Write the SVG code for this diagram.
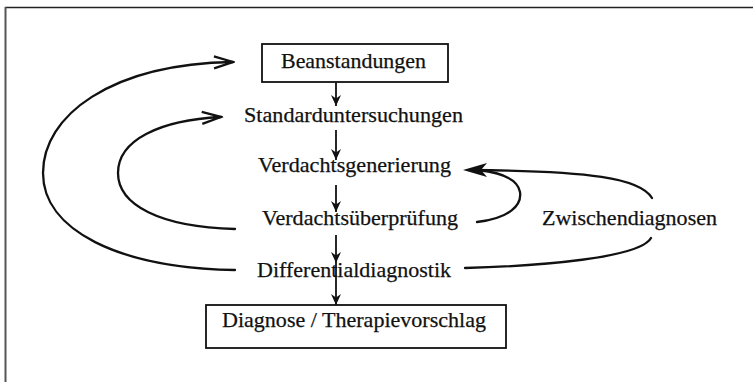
<svg xmlns="http://www.w3.org/2000/svg" width="753" height="382" viewBox="0 0 753 382">
  <defs>
    <style>
      .t { font-family: "Liberation Serif", "Times New Roman", serif; font-size: 22px; fill: #111; stroke: #111; stroke-width: 0.25; }
      .box { fill: #fff; stroke: #111; stroke-width: 1.8; }
      .v { stroke: #111; stroke-width: 1.8; fill: none; }
      .c { stroke: #111; stroke-width: 2.3; fill: none; stroke-linecap: round; }
    </style>
    <marker id="vh" markerUnits="userSpaceOnUse" markerWidth="14" markerHeight="14" viewBox="-12 -7 13 14" refX="0" refY="0" orient="auto">
      <path d="M0,0 L-11,-5 L-7.5,0 L-11,5 Z" fill="#111"/>
    </marker>
    <marker id="oh" markerUnits="userSpaceOnUse" markerWidth="24" markerHeight="16" viewBox="-21 -8 23 16" refX="0" refY="0" orient="auto">
      <path d="M-19,-6 L0,0 L-19,6" fill="none" stroke="#111" stroke-width="2.3" stroke-linejoin="miter"/>
      <path d="M-8,-2 L0,0 L-8,2 Z" fill="#111"/>
    </marker>
  </defs>

  <g id="frame">
    <path d="M5,7.5 H753" stroke="#222" stroke-width="1.5"/>
    <path d="M5.5,7 V382" stroke="#555" stroke-width="2"/>
  </g>

  <g id="connectors">
    <path class="v" d="M336,82 V106" marker-end="url(#vh)"/>
    <path class="v" d="M336,130 V160" marker-end="url(#vh)"/>
    <path class="v" d="M336,185 V212" marker-end="url(#vh)"/>
    <path class="v" d="M336,235 V263" marker-end="url(#vh)"/>
    <path class="v" d="M336,263 V305" marker-end="url(#vh)"/>
    <path class="c" d="M235,270 C118,268 43,230 43,173 C43,116 110,64 233,62" marker-end="url(#oh)"/>
    <path class="c" d="M235,229 C160,227 118,205 118,173 C118,140 160,120 221,117" marker-end="url(#oh)"/>
    <path class="c" d="M652,198 C640,178 590,171 470,170"/>
    <path class="c" d="M477,222 C510,218 522,205 520,192 C518,180 505,173 478,170"/>
    <path d="M463,170 L487,163 L481,170 L487,177 Z" fill="#111"/>
    <path class="c" d="M465,268 C540,266 640,258 651,238"/>
  </g>

  <g id="beanstandungen">
    <rect class="box" x="262" y="44" width="186" height="38"/>
    <text class="t" x="281" y="68" textLength="145" lengthAdjust="spacingAndGlyphs">Beanstandungen</text>
  </g>
  <g id="standarduntersuchungen">
    <text class="t" x="244" y="122" textLength="219" lengthAdjust="spacingAndGlyphs">Standarduntersuchungen</text>
  </g>
  <g id="verdachtsgenerierung">
    <text class="t" x="258" y="172" textLength="193" lengthAdjust="spacingAndGlyphs">Verdachtsgenerierung</text>
  </g>
  <g id="verdachtsueberpruefung">
    <text class="t" x="262" y="225" textLength="196" lengthAdjust="spacingAndGlyphs">Verdachtsüberprüfung</text>
  </g>
  <g id="differentialdiagnostik">
    <text class="t" x="257" y="277" textLength="194" lengthAdjust="spacingAndGlyphs">Differentialdiagnostik</text>
  </g>
  <g id="zwischendiagnosen">
    <text class="t" x="542" y="225" textLength="175" lengthAdjust="spacingAndGlyphs">Zwischendiagnosen</text>
  </g>
  <g id="diagnose">
    <rect class="box" x="206" y="305" width="300" height="43"/>
    <text class="t" x="222" y="327" textLength="264" lengthAdjust="spacingAndGlyphs">Diagnose / Therapievorschlag</text>
  </g>
</svg>
